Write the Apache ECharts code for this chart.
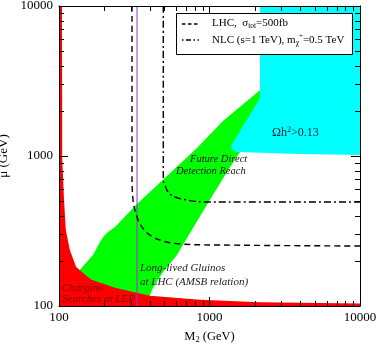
<!DOCTYPE html>
<html><head><meta charset="utf-8">
<script src="https://cdn.jsdelivr.net/npm/echarts@6/dist/echarts.min.js"></script>
<style>html,body{margin:0;padding:0;background:#fff}#c{width:379px;height:344px}</style>
</head><body><div id="c"></div>
<script>
// ---- data (M2 in GeV, mu in GeV) ----
const axisMin = 100;
const axisMax = 10000;
const minorTicks = [200,300,400,500,600,700,800,900,2000,3000,4000,5000,6000,7000,8000,9000];

// Chargino searches at LEP (excluded region, closed along the axes)
const lepM2 = [100, 104.7, 105, 108, 111, 118, 130, 163, 239, 402, 865, 2165, 10000, 10000, 100];
const lepMu = [10000, 10000, 1000, 509, 321, 236, 182, 150, 132, 117, 110, 106, 104, 100, 100];

// Future direct detection reach band
const ddM2 = [122, 133.7, 148.9, 168.2, 187.3, 199, 211.7, 235.6, 329.8, 522, 826, 1229, 1945, 2338, 2940,
              1916, 1595, 1307, 977, 708.6, 608, 491, 421, 390, 372.7, 122];
const ddMu = [144.5, 168.6, 190.5, 218.8, 267, 293, 311, 336, 478.6, 735.6, 1131, 1712, 2512, 2929, 2929,
              1184, 1063, 782, 486, 284, 218.8, 168.6, 131.8, 109.6, 100, 100];

// Omega h^2 > 0.13 region
const omM2 = [2165, 10000, 10000, 3993, 1523, 1411, 1390, 1455, 2165];
const omMu = [10000, 10000, 1015, 1031, 1063, 1096, 1166, 1259, 2436];

// LHC sigma_tot = 500 fb contour
const lhcM2 = [305.5, 305.5, 310.2, 329.8, 356, 402, 491, 637, 1174, 10000];
const lhcMu = [10000, 807, 509, 392, 336, 297, 271, 259, 255, 251];

// NLC (s=1 TeV) m_chi = 0.5 TeV contour
const nlcM2 = [493, 493, 506, 530, 590, 709, 905, 10000];
const nlcMu = [10000, 692, 641, 575, 533, 509, 494, 494];

// Long-lived gluinos at LHC (AMSB relation)
const gluM2 = [330, 330];
const gluMu = [100, 10000];

// legend labels
const legendLabels = ['{t|LHC,  σ}{sub|tot}{t|=500fb}', '{t|NLC (s=1 TeV), m}{sub|χ}{sup|+}{t|=0.5 TeV}'];

// ---- chart ----
const FONT = '"Liberation Serif", "Times New Roman", serif';
const chart = echarts.init(document.getElementById('c'), null, {renderer: 'canvas'});

function zipPts(xs, ys) { return xs.map((x, i) => [x, ys[i]]); }

function polySeries(name, xs, ys, color, z) {
  return {
    name: name, type: 'custom', coordinateSystem: 'cartesian2d', silent: true, z: z,
    data: zipPts(xs, ys),
    encode: {x: 0, y: 1},
    renderItem: function (params, api) {
      if (params.dataIndex !== 0) return;
      const pts = xs.map((x, i) => api.coord([x, ys[i]]));
      return {type: 'polygon', shape: {points: pts}, style: {fill: color, stroke: null}};
    }
  };
}

function crisp(v) { return Math.round(v) + 0.5; }

const axisCommon = {
  type: 'log', logBase: 10, min: axisMin, max: axisMax, z: 10,
  axisLine: {show: true, onZero: false, lineStyle: {color: '#000', width: 1}},
  axisTick: {show: true, inside: true, length: 9, lineStyle: {color: '#000', width: 1}},
  splitLine: {show: false},
  minorTick: {show: false},
  minorSplitLine: {show: false}
};

const legendRich = {
  t: {fontFamily: FONT, fontSize: 11, fill: '#000', lineHeight: 13},
  sub: {fontFamily: FONT, fontSize: 7.5, fill: '#000', lineHeight: 13, padding: [6, 0, 0, 0]},
  sup: {fontFamily: FONT, fontSize: 7, fill: '#000', lineHeight: 13, padding: [0, 0, 7, 0]}
};

const option = {
  animation: false,
  backgroundColor: '#fff',
  grid: {left: 59, right: 19, top: 6, bottom: 38, containLabel: false, outerBoundsMode: 'none'},
  legend: {show: false},
  xAxis: [
    Object.assign({}, axisCommon, {
      position: 'bottom',
      name: '{t|M}{s|2}{t| (GeV)}', nameLocation: 'middle', nameGap: 15,
      nameTextStyle: {rich: {
        t: {fontFamily: FONT, fontSize: 12.5, color: '#000', lineHeight: 14},
        s: {fontFamily: FONT, fontSize: 8.5, color: '#000', lineHeight: 14, padding: [6, 0, 0, 0]}
      }},
      axisLabel: {show: true, margin: 5, fontFamily: FONT, fontSize: 13, color: '#000',
        formatter: v => String(Math.round(v))}
    }),
    Object.assign({}, axisCommon, {position: 'top', axisLabel: {show: false}})
  ],
  yAxis: [
    Object.assign({}, axisCommon, {
      position: 'left',
      name: 'μ (GeV)', nameLocation: 'middle', nameGap: 40, nameRotate: 90,
      nameTextStyle: {fontFamily: FONT, fontSize: 13, color: '#000'},
      axisLabel: {show: true, margin: 6, fontFamily: FONT, fontSize: 13, color: '#000',
        formatter: v => String(Math.round(v))}
    }),
    Object.assign({}, axisCommon, {position: 'right', axisLabel: {show: false}})
  ],
  series: [
    polySeries('dd', ddM2, ddMu, '#00ff00', 1),
    polySeries('omega', omM2, omMu, '#00ffff', 2),
    polySeries('lep', lepM2, lepMu, '#ff0000', 3),
    {
      name: 'gluino', type: 'line', data: zipPts(gluM2, gluMu), symbol: 'none', silent: true, z: 5,
      lineStyle: {color: '#9933cc', width: 1}
    },
    {
      name: 'LHC', type: 'line', data: zipPts(lhcM2, lhcMu), symbol: 'none', smooth: 0.35, silent: true, z: 6,
      lineStyle: {color: '#000', width: 1.4, type: [6, 4]}
    },
    {
      name: 'NLC', type: 'line', data: zipPts(nlcM2, nlcMu), symbol: 'none', smooth: 0.35, silent: true, z: 6,
      lineStyle: {color: '#000', width: 1.4, type: [7, 3, 2, 3]}
    },
    {
      name: 'xminor', type: 'custom', silent: true, z: 11,
      data: minorTicks.map(v => [v, axisMin]),
      renderItem: function (params, api) {
        const v = api.value(0);
        const b = api.coord([v, axisMin]);
        const t = api.coord([v, axisMax]);
        const x = crisp(b[0]);
        return {type: 'group', children: [
          {type: 'line', shape: {x1: x, y1: b[1], x2: x, y2: b[1] - 5}, style: {stroke: '#000', lineWidth: 1}},
          {type: 'line', shape: {x1: x, y1: t[1], x2: x, y2: t[1] + 5}, style: {stroke: '#000', lineWidth: 1}}
        ]};
      }
    },
    {
      name: 'yminor', type: 'custom', silent: true, z: 11,
      data: minorTicks.map(v => [axisMin, v]),
      renderItem: function (params, api) {
        const v = api.value(1);
        const l = api.coord([axisMin, v]);
        const r = api.coord([axisMax, v]);
        const y = crisp(l[1]);
        return {type: 'group', children: [
          {type: 'line', shape: {x1: l[0], y1: y, x2: l[0] + 5, y2: y}, style: {stroke: '#000', lineWidth: 1}},
          {type: 'line', shape: {x1: r[0], y1: y, x2: r[0] - 5, y2: y}, style: {stroke: '#000', lineWidth: 1}}
        ]};
      }
    }
  ],
  graphic: [
    // legend box
    {type: 'rect', z: 40, shape: {x: 176.5, y: 13.5, width: 176, height: 41},
      style: {fill: '#fff', stroke: '#000', lineWidth: 1}},
    {type: 'line', z: 41, shape: {x1: 182, y1: 24, x2: 198, y2: 24},
      style: {stroke: '#000', lineWidth: 1.4, lineDash: [3.5, 2.5]}},
    {type: 'line', z: 41, shape: {x1: 182, y1: 40, x2: 199, y2: 40},
      style: {stroke: '#000', lineWidth: 1.4, lineDash: [1.5, 2.5, 5, 2.5]}},
    {type: 'text', z: 41, style: {x: 212, y: 23, text: legendLabels[0], textVerticalAlign: 'middle', rich: legendRich}},
    {type: 'text', z: 41, style: {x: 212, y: 40, text: legendLabels[1], textVerticalAlign: 'middle', rich: legendRich}},
    // region annotations
    {type: 'text', z: 30, style: {x: 272, y: 133, text: '{t|Ωh}{p|2}{t|>0.13}', textVerticalAlign: 'middle',
      rich: {t: {fontFamily: FONT, fontSize: 12, fill: '#002233', lineHeight: 14},
             p: {fontFamily: FONT, fontSize: 8, fill: '#002233', lineHeight: 14, padding: [0, 0, 7, 0]}}}},
    {type: 'text', z: 30, style: {x: 190, y: 159, text: 'Future Direct', font: 'italic 10.5px ' + FONT, fill: '#111', textVerticalAlign: 'middle'}},
    {type: 'text', z: 30, style: {x: 176, y: 171, text: 'Detection Reach', font: 'italic 10.5px ' + FONT, fill: '#111', textVerticalAlign: 'middle'}},
    {type: 'text', z: 30, style: {x: 140, y: 268, text: 'Long-lived Gluinos', font: 'italic 11px ' + FONT, fill: '#222', textVerticalAlign: 'middle'}},
    {type: 'text', z: 30, style: {x: 140, y: 282, text: 'at LHC (AMSB relation)', font: 'italic 11px ' + FONT, fill: '#222', textVerticalAlign: 'middle'}},
    {type: 'text', z: 30, style: {x: 62, y: 288, text: 'Chargino', font: 'italic 11px ' + FONT, fill: '#800000', textVerticalAlign: 'middle'}},
    {type: 'text', z: 30, style: {x: 62, y: 299, text: 'Searches at LEP', font: 'italic 11px ' + FONT, fill: '#800000', textVerticalAlign: 'middle'}}
  ]
};
chart.setOption(option);
</script>
</body></html>
